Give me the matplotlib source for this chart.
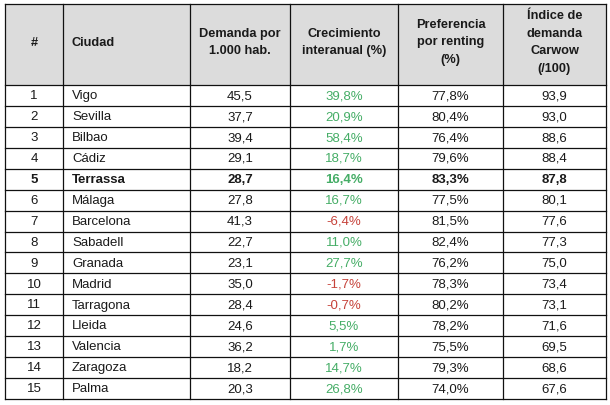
import matplotlib.pyplot as plt
from matplotlib.patches import Rectangle

plt.rcParams['font.family'] = ['Liberation Sans', 'DejaVu Sans']

# Data
headers = ['#', 'Ciudad', 'Demanda por\n1.000 hab.', 'Crecimiento\ninteranual (%)',
           'Preferencia\npor renting\n(%)', 'Índice de\ndemanda\nCarwow\n(/100)']
ranks = list(range(1, 16))
cities = ['Vigo', 'Sevilla', 'Bilbao', 'Cádiz', 'Terrassa', 'Málaga', 'Barcelona',
          'Sabadell', 'Granada', 'Madrid', 'Tarragona', 'Lleida', 'Valencia',
          'Zaragoza', 'Palma']
demand = [45.5, 37.7, 39.4, 29.1, 28.7, 27.8, 41.3, 22.7, 23.1, 35.0, 28.4, 24.6,
          36.2, 18.2, 20.3]
growth = [39.8, 20.9, 58.4, 18.7, 16.4, 16.7, -6.4, 11.0, 27.7, -1.7, -0.7, 5.5,
          1.7, 14.7, 26.8]
renting = [77.8, 80.4, 76.4, 79.6, 83.3, 77.5, 81.5, 82.4, 76.2, 78.3, 80.2, 78.2,
           75.5, 79.3, 74.0]
carwow = [93.9, 93.0, 88.6, 88.4, 87.8, 80.1, 77.6, 77.3, 75.0, 73.4, 73.1, 71.6,
          69.5, 68.6, 67.6]
highlight = 'Terrassa'

# Layout (pixels)
col_edges = [5, 63, 190, 290, 398, 503, 606]
top, header_bottom, bottom = 4, 85, 399
row_h = (bottom - header_bottom) / len(cities)

GREEN = '#45ad66'
RED = '#c6423a'
TXT = '#1a1a1a'


def fmt(v, pct=False):
    s = f'{v:.1f}'.replace('.', ',')
    return s + '%' if pct else s


fig = plt.figure(figsize=(6.1, 4.05), dpi=100)
ax = fig.add_axes([0, 0, 1, 1])
ax.set_xlim(0, 610)
ax.set_ylim(405, 0)
ax.axis('off')

# header background
ax.add_patch(Rectangle((col_edges[0], top), col_edges[-1] - col_edges[0],
                       header_bottom - top, facecolor='#dcdcdc', edgecolor='none'))

hfs = 9.2
fs = 9.5
hy = (top + header_bottom) / 2 - 2
for j, h in enumerate(headers):
    if j == 1:
        ax.text(col_edges[1] + 9, hy, h, ha='left', va='center', fontsize=hfs,
                fontweight='bold', color=TXT)
    else:
        xc = (col_edges[j] + col_edges[j + 1]) / 2
        ax.text(xc, hy, h, ha='center', va='center', fontsize=hfs,
                fontweight='bold', color=TXT, linespacing=1.6, multialignment='center')

for i, city in enumerate(cities):
    yc = header_bottom + (i + 0.5) * row_h + 0.7
    w = 'bold' if city == highlight else 'normal'
    cells = [str(ranks[i]), city, fmt(demand[i]), fmt(growth[i], True),
             fmt(renting[i], True), fmt(carwow[i])]
    for j, c in enumerate(cells):
        color = TXT
        if j == 3:
            color = GREEN if growth[i] >= 0 else RED
        if j == 1:
            ax.text(col_edges[1] + 9, yc, c, ha='left', va='center', fontsize=fs,
                    fontweight=w, color=TXT)
        else:
            xc = (col_edges[j] + col_edges[j + 1]) / 2
            ax.text(xc, yc, c, ha='center', va='center', fontsize=fs,
                    fontweight=w, color=color)

# grid lines
lw = 0.9
for x in col_edges:
    ax.plot([x, x], [top, bottom], color='#111111', lw=lw, solid_capstyle='projecting')
ax.plot([col_edges[0], col_edges[-1]], [top, top], color='#111111', lw=lw)
for i in range(len(cities) + 1):
    y = header_bottom + i * row_h
    ax.plot([col_edges[0], col_edges[-1]], [y, y], color='#111111', lw=lw)

fig.savefig('out.png', dpi=100, facecolor='white')
